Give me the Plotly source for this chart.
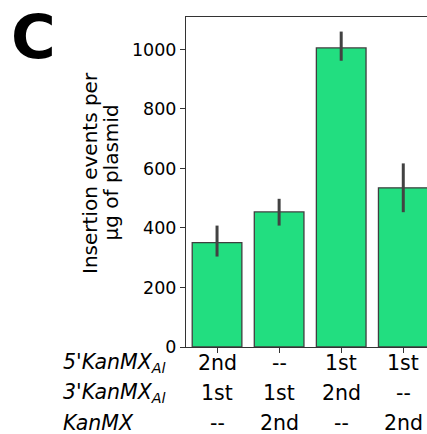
import plotly.graph_objects as go

# ---- data ----
positions = [0, 1, 2, 3]
values = [351, 454, 1005, 535]
err_hi = [408, 498, 1060, 617]
err_lo = [304, 408, 962, 453]
row_labels = ["5'KanMX<sub>Al</sub>", "3'KanMX<sub>Al</sub>", "KanMX"]
row_5 = ["2nd", "--", "1st", "1st"]
row_3 = ["1st", "1st", "2nd", "--"]
row_k = ["--", "2nd", "--", "2nd"]
y_ticks = [0, 200, 400, 600, 800, 1000]

W, H = 427, 434
L, R, T, B = 186, 0, 17, 87
pw, ph = W - L - R, H - T - B

FONT = "DejaVu Sans"
GREEN = "#22DE80"
EDGE = "#3f3f3f"
ERR = "#424242"

fig = go.Figure()
fig.add_trace(go.Bar(
    x=positions, y=values, width=0.8,
    marker=dict(color=GREEN, line=dict(color=EDGE, width=1.3)),
    error_y=dict(type="data", symmetric=False,
                 array=[h - v for h, v in zip(err_hi, values)],
                 arrayminus=[v - l for v, l in zip(values, err_lo)],
                 color=ERR, thickness=3, width=0),
    showlegend=False, hoverinfo="skip",
))

fig.update_layout(
    width=W, height=H,
    margin=dict(l=L, r=R, t=T, b=B, pad=0),
    paper_bgcolor="white", plot_bgcolor="white",
    font=dict(family=FONT, size=17.5, color="black"),
    xaxis=dict(range=[-0.5, 3.382], tickvals=positions, showticklabels=False,
               showline=True, linecolor="#333", linewidth=1, mirror=True,
               ticks="outside", ticklen=5, tickcolor="#333", showgrid=False,
               zeroline=False, fixedrange=True),
    yaxis=dict(range=[0, 1109], tickvals=y_ticks, showline=True, linecolor="#333",
               linewidth=1, ticks="outside", ticklen=5, tickcolor="#333",
               showgrid=False, zeroline=False, tickfont=dict(size=17.5),
               fixedrange=True),
    bargap=0.2,
)

def px_x(px):
    return (px - L) / pw

def px_y(py):
    return (H - B - py) / ph

TXT = dict(family=FONT, color="black")
anns = []
# Panel letter
anns.append(dict(text="<b>C</b>", x=px_x(33), y=px_y(36), xref="paper", yref="paper",
                 showarrow=False, font=dict(size=61, **TXT),
                 xanchor="center", yanchor="middle"))
# Y-axis label (two lines)
for txt, cx in [("Insertion events per", 90), ("\u03bcg of plasmid", 110.5)]:
    anns.append(dict(text=txt, x=px_x(cx), y=px_y(173),
                     xref="paper", yref="paper", showarrow=False, textangle=-90,
                     font=dict(size=20, **TXT), xanchor="center", yanchor="middle"))
# Table rows
row_y = [363, 393, 423]
for lab, ry, row in zip(row_labels, row_y, [row_5, row_3, row_k]):
    anns.append(dict(text="<i>" + lab + "</i>", x=px_x(61), y=px_y(ry), xref="paper",
                     yref="paper", showarrow=False, xanchor="left", yanchor="middle",
                     font=dict(size=20.5, **TXT)))
    for xp, t in zip(positions, row):
        anns.append(dict(text=t, x=xp, y=px_y(ry), xref="x", yref="paper",
                         showarrow=False, xanchor="center", yanchor="middle",
                         font=dict(size=20.5, **TXT)))
fig.update_layout(annotations=anns)

fig.write_html("out.html", config={"displayModeBar": False},
               post_script="document.body.style.margin='0';document.body.style.overflow='hidden';")
